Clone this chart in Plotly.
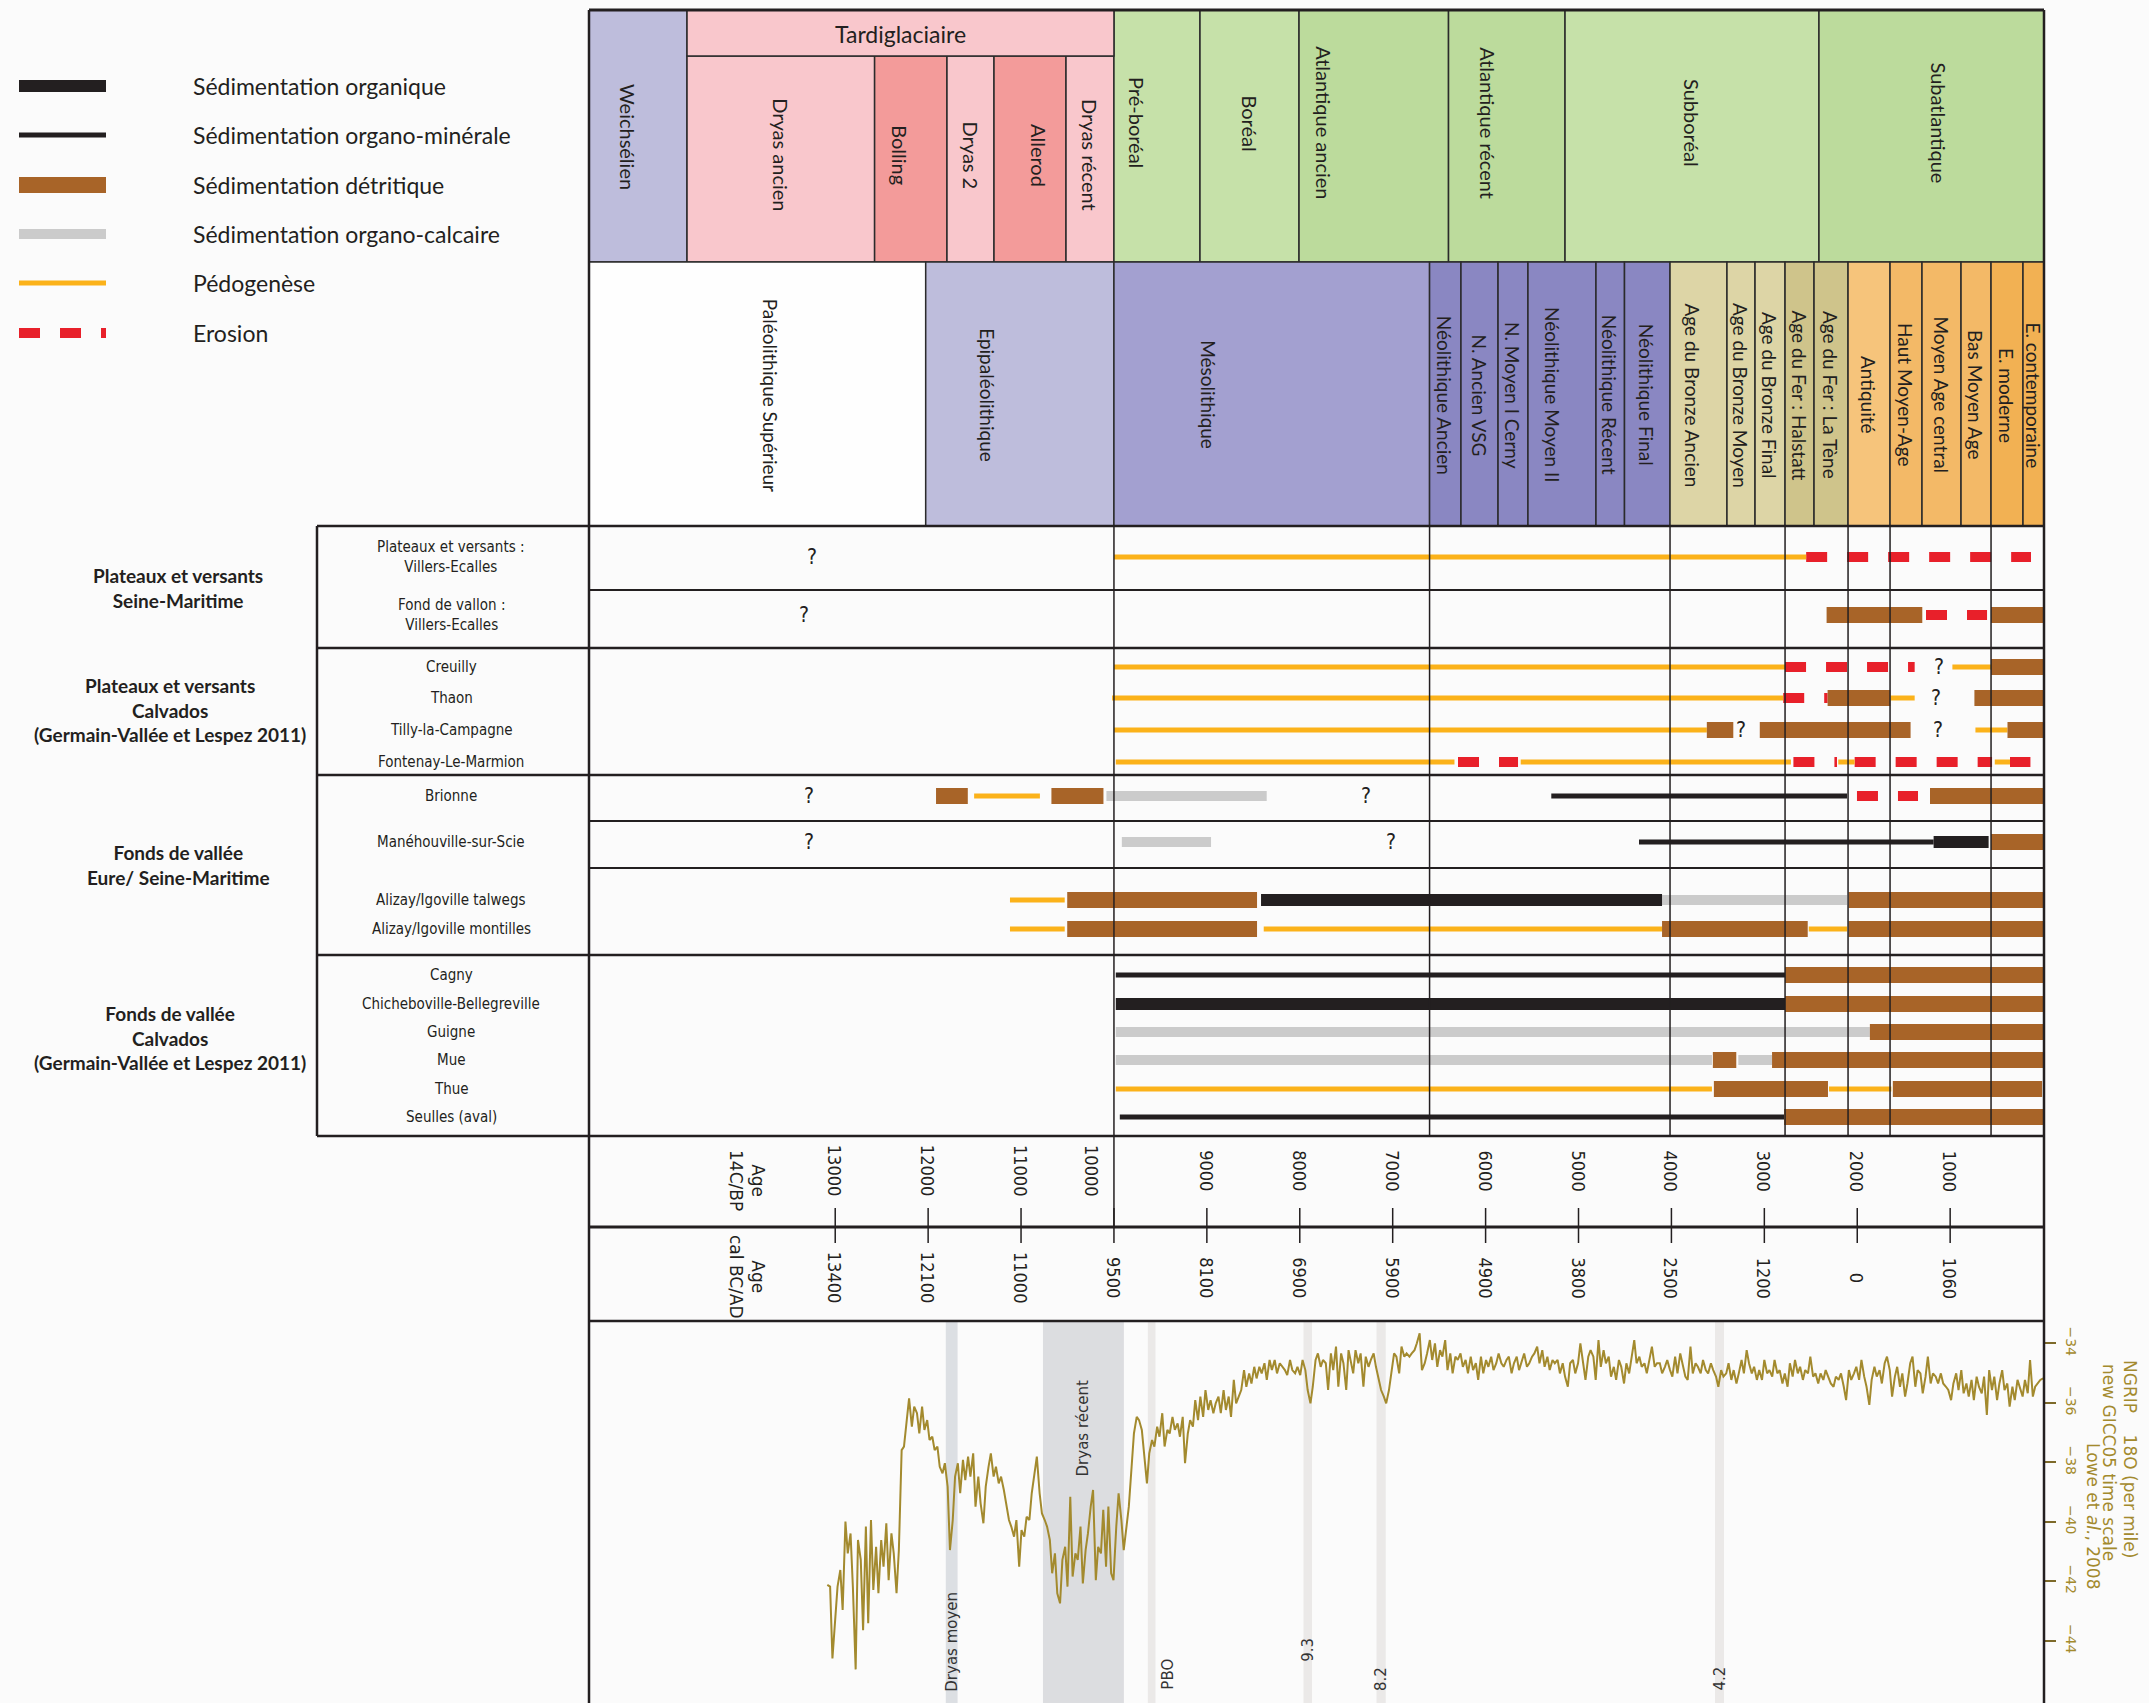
import plotly.graph_objects as go

W, H = 2149, 1703

# ---- chronology (ages in 14C years BP) ----
chrono_names = ["Weichsélien", "Dryas ancien", "Bolling", "Dryas 2", "Allerod", "Dryas récent",
                "Pré-boréal", "Boréal", "Atlantique ancien", "Atlantique récent", "Subboréal", "Subatlantique"]
chrono_start = [15650, 14595, 12576, 11797, 11291, 10516, 10000, 9074, 8008, 6399, 5145, 2412]
chrono_end = [14595, 12576, 11797, 11291, 10516, 10000, 9074, 8008, 6399, 5145, 2412, -10]
tardiglaciaire = ("Tardiglaciaire", 14595, 10000)

culture_names = ["Paléolithique Supérieur", "Epipaléolithique", "Mésolithique", "Néolithique Ancien",
                 "N. Ancien VSG", "N. Moyen I Cerny", "Néolithique Moyen II", "Néolithique Récent",
                 "Néolithique Final", "Age du Bronze Ancien", "Age du Bronze Moyen", "Age du Bronze Final",
                 "Age du Fer : Halstatt", "Age du Fer : La Tène", "Antiquité", "Haut Moyen-Age",
                 "Moyen Age central", "Bas Moyen Age", "E. moderne", "E. contemporaine"]
culture_start = [15650, 12026, 10000, 6603, 6265, 5866, 5544, 4812, 4505, 4015, 3402, 3100,
                 2777, 2465, 2099, 1647, 1303, 883, 560, 216]
culture_end = [12026, 10000, 6603, 6265, 5866, 5544, 4812, 4505, 4015, 3402, 3100, 2777,
               2465, 2099, 1647, 1303, 883, 560, 216, -10]
table_dividers = [10000, 6603, 4015, 2777, 2099, 1647, 560]

# ---- sites and sequences ----
groups = ["Plateaux et versants<br>Seine-Maritime",
          "Plateaux et versants<br>Calvados<br>(Germain-Vallée et Lespez 2011)",
          "Fonds de vallée<br>Eure/ Seine-Maritime",
          "Fonds de vallée<br>Calvados<br>(Germain-Vallée et Lespez 2011)"]
sites = ["Plateaux et versants :<br>Villers-Ecalles", "Fond de vallon :<br>Villers-Ecalles",
         "Creuilly", "Thaon", "Tilly-la-Campagne", "Fontenay-Le-Marmion", "Brionne",
         "Manéhouville-sur-Scie", "Alizay/Igoville talwegs", "Alizay/Igoville montilles",
         "Cagny", "Chicheboville-Bellegreville", "Guigne", "Mue", "Thue", "Seulles (aval)"]

# (site index, start age, end age)
organique = [(7, 1178, 586), (8, 8417, 4101), (11, 9980, 2777)]
organo_min = [(6, 5293, 2110), (7, 4349, 1178), (10, 9980, 2777), (15, 9937, 2787)]
detritique = [(1, 2330, 1300), (1, 560, -10), (2, 560, -10), (3, 2319, 1644), (3, 739, -10),
              (4, 3619, 3334), (4, 3049, 1426), (4, 383, -10), (6, 11915, 11573), (6, 10673, 10113),
              (6, 1217, -10), (7, 560, -10), (8, 10503, 8460), (8, 2094, -10), (9, 10503, 8460),
              (9, 4101, 2533), (9, 2094, -10), (10, 2777, -10), (11, 2777, -10), (12, 1864, -10),
              (13, 3554, 3302), (13, 2917, -10), (14, 3543, 2315), (14, 1617, 10), (15, 2787, -10)]
calcaire = [(6, 10081, 8356), (7, 9915, 8955), (8, 4101, 2110), (12, 9980, 1864),
            (13, 9980, 3564), (13, 3280, 2917)]
pedogenese = [(0, 10000, 2550), (2, 10000, 2777), (2, 976, 560), (3, 10020, 2797), (3, 1644, 1382),
              (4, 10000, 3619), (4, 728, 383), (5, 9980, 6335), (5, 5622, 2714), (5, 2204, 2028),
              (5, 520, 356), (6, 11505, 10797), (8, 11119, 10530), (9, 11119, 10530), (9, 8388, 4101),
              (9, 2522, 2110), (14, 9980, 3564), (14, 2304, 1633)]
erosion = [(0, 2550, 130), (1, 1260, 603), (2, 2777, 1382), (3, 2797, 2319), (5, 6297, 5651),
           (5, 2687, 2218), (5, 2028, 549), (5, 356, 136), (6, 2003, 1346)]
questions = [(0, 13250), (1, 13331), (2, 1123), (3, 1150), (4, 3247), (4, 1134),
             (6, 13286), (6, 7290), (7, 13286), (7, 7020)]

legend_kinds = ["organique", "organo_min", "detritique", "calcaire", "pedogenese", "erosion"]
legend_labels = ["Sédimentation organique", "Sédimentation organo-minérale", "Sédimentation détritique",
                 "Sédimentation organo-calcaire", "Pédogenèse", "Erosion"]

# ---- age scales ----
c14_ticks = [13000, 12000, 11000, 10000, 9000, 8000, 7000, 6000, 5000, 4000, 3000, 2000, 1000]
cal_labels = ["13400", "12100", "11000", "9500", "8100", "6900", "5900", "4900", "3800", "2500",
              "1200", "0", "1060"]

# ---- NGRIP d18O ----
band_names = ["Dryas moyen", "Dryas récent", "PBO", "9.3", "8.2", "4.2"]
band_start = [11810, 10764, 9635, 7960, 7174, 3531]
band_end = [11683, 9893, 9553, 7868, 7075, 3434]

ngrip_age = [
    13085, 13055, 13030, 13000, 12975, 12945, 12920, 12890, 12865, 12835,
    12810, 12780, 12755, 12725, 12700, 12670, 12645, 12615, 12590, 12560,
    12535, 12505, 12480, 12450, 12425, 12395, 12370, 12340, 12315, 12285,
    12260, 12230, 12205, 12175, 12150, 12120, 12095, 12065, 12040, 12010,
    11985, 11955, 11930, 11900, 11875, 11845, 11820, 11790, 11765, 11735,
    11710, 11680, 11655, 11625, 11600, 11570, 11545, 11515, 11490, 11460,
    11435, 11405, 11380, 11350, 11325, 11295, 11270, 11240, 11215, 11185,
    11160, 11130, 11105, 11075, 11050, 11020, 10995, 10965, 10940, 10910,
    10885, 10855, 10830, 10800, 10775, 10745, 10720, 10690, 10665, 10635,
    10610, 10580, 10555, 10525, 10500, 10470, 10445, 10415, 10390, 10360,
    10335, 10305, 10280, 10250, 10225, 10195, 10170, 10140, 10115, 10085,
    10060, 10030, 10005, 9975, 9950, 9920, 9895, 9865, 9840, 9810,
    9785, 9755, 9730, 9700, 9675, 9645, 9620, 9590, 9565, 9535,
    9510, 9480, 9455, 9425, 9400, 9370, 9345, 9315, 9290, 9260,
    9235, 9205, 9180, 9150, 9125, 9095, 9070, 9040, 9015, 8985,
    8960, 8930, 8905, 8875, 8850, 8820, 8795, 8765, 8740, 8710,
    8685, 8655, 8630, 8600, 8575, 8545, 8520, 8490, 8465, 8435,
    8410, 8380, 8355, 8325, 8300, 8270, 8245, 8215, 8190, 8160,
    8135, 8105, 8080, 8050, 8025, 7995, 7970, 7940, 7915, 7885,
    7860, 7830, 7805, 7775, 7750, 7720, 7695, 7665, 7640, 7610,
    7585, 7555, 7530, 7500, 7475,
    7455, 7425, 7400, 7370, 7345, 7315, 7290, 7260, 7235, 7205,
    7180, 7150, 7125, 7095, 7070, 7040, 7015, 6985, 6960, 6930,
    6905, 6875, 6850, 6820, 6795, 6765, 6740, 6710, 6685, 6655,
    6630, 6600, 6575, 6545, 6520, 6490, 6465, 6435, 6410, 6380,
    6355, 6325, 6300, 6270, 6245, 6215, 6190, 6160, 6135, 6105,
    6080, 6050, 6025, 5995, 5970, 5940, 5915, 5885, 5860, 5830,
    5805, 5775, 5750, 5720, 5695, 5665, 5640, 5610, 5585, 5555,
    5530, 5500, 5475, 5445, 5420, 5390, 5365, 5335, 5310, 5280,
    5255, 5225, 5200, 5170, 5145, 5115, 5090, 5060, 5035, 5005,
    4980, 4950, 4925, 4895, 4870, 4840, 4815, 4785, 4760, 4730,
    4705, 4675, 4650, 4620, 4595, 4565, 4540, 4510, 4485, 4455,
    4430, 4400, 4375, 4345, 4320, 4290, 4265, 4235, 4210, 4180,
    4155, 4125, 4100, 4070, 4045, 4015, 3990, 3960, 3935, 3905,
    3880, 3850, 3825, 3795, 3770, 3740, 3715, 3685, 3660, 3630,
    3605, 3575, 3550, 3520, 3495, 3465, 3440, 3410, 3385, 3355,
    3330, 3300, 3275, 3245, 3220, 3190, 3165, 3135, 3110, 3080,
    3055, 3025, 3000, 2970, 2945, 2915, 2890, 2860, 2835, 2805,
    2780, 2750, 2725, 2695, 2670, 2640, 2615, 2585, 2560, 2530,
    2505, 2475, 2450, 2420, 2395, 2365, 2340, 2310, 2285, 2255,
    2230, 2200, 2175, 2145, 2120, 2090, 2065, 2035, 2010, 1980,
    1955, 1925, 1900, 1870, 1845, 1815, 1790, 1760, 1735, 1705,
    1680, 1650, 1625, 1595, 1570, 1540, 1515, 1485, 1460, 1430,
    1405, 1375, 1350, 1320, 1295, 1265, 1240, 1210, 1185, 1155,
    1130, 1100, 1075, 1045, 1020, 990, 965, 935, 910, 880,
    855, 825, 800, 770, 745, 715, 690, 660, 635, 605,
    580, 550, 525, 495, 470, 440, 415, 385, 360, 330,
    305, 275, 250, 220, 195, 165, 140, 110, 85, 55,
    30, 0]
ngrip_d18o = [
    -42.12, -42.18, -44.59, -43.08, -42.18, -41.62, -42.96, -39.99, -41.06, -40.39,
    -42.18, -44.96, -40.61, -41.28, -43.64, -40.16, -43.41, -39.94, -42.29, -40.84,
    -42.40, -40.61, -41.51, -40.05, -41.96, -40.39, -41.06, -42.40, -40.95, -37.59,
    -37.47, -36.58, -35.85, -36.80, -36.13, -36.35, -37.03, -36.13, -36.91, -36.58,
    -37.25, -37.14, -37.59, -37.47, -38.15, -38.37, -38.03, -38.82, -40.95, -39.94,
    -38.48, -38.03, -39.04, -37.92, -38.60, -37.81, -38.48, -37.70, -39.49, -38.48,
    -39.38, -40.05, -38.82, -38.15, -37.70, -38.48, -38.15, -38.71, -38.48, -38.93,
    -39.38, -39.94, -40.16, -40.50, -39.94, -41.51, -40.28, -40.50, -39.83, -39.94,
    -39.04, -38.26, -37.81, -39.04, -39.72, -39.94, -40.16, -40.61, -41.73, -41.06,
    -42.40, -42.74, -41.28, -40.84, -42.18, -39.16, -41.84, -41.06, -41.28, -40.16,
    -42.07, -40.95, -40.39, -39.49, -38.93, -41.96, -40.84, -41.06, -39.60, -41.51,
    -39.49, -41.73, -41.96, -40.16, -39.04, -39.94, -40.95, -40.16, -39.49, -38.15,
    -37.03, -36.47, -36.58, -36.91, -37.70, -38.71, -37.70, -37.25, -37.47, -36.80,
    -37.14, -36.35, -37.47, -36.91, -37.03, -36.47, -36.91, -36.69, -37.14, -36.47,
    -38.03, -37.03, -36.58, -36.80, -35.91, -36.58, -35.79, -36.47, -35.57, -36.24,
    -35.91, -36.35, -36.02, -35.79, -36.35, -35.57, -36.24, -35.79, -36.47, -35.23,
    -36.02, -35.79, -35.57, -34.90, -35.46, -35.01, -35.35, -34.79, -35.18, -34.79,
    -35.01, -34.67, -35.23, -34.56, -34.90, -34.56, -35.01, -34.67, -34.79, -34.90,
    -35.07, -34.56, -34.90, -35.01, -34.79, -35.07, -34.56, -34.90, -35.57, -36.02,
    -35.46, -34.56, -34.34, -34.79, -34.56, -34.67, -35.57, -34.34, -34.90, -34.11,
    -35.46, -34.34, -34.67, -35.57, -34.23,
    -34.56, -35.01, -34.23, -34.67, -34.34, -35.46, -34.45, -34.79, -34.56, -34.34,
    -34.79, -35.23, -35.57, -35.79, -36.02, -35.57, -35.01, -34.34, -34.45, -35.01,
    -34.11, -34.45, -34.34, -34.45, -34.34, -34.23, -34.00, -33.66, -34.90, -34.67,
    -34.34, -33.89, -34.56, -34.00, -34.79, -34.23, -34.45, -33.89, -34.90, -34.34,
    -35.01, -34.45, -34.56, -34.34, -34.79, -34.56, -35.01, -34.45, -34.90, -34.67,
    -35.23, -34.45, -35.01, -34.56, -34.79, -34.45, -34.90, -34.67, -34.34, -34.67,
    -34.79, -34.56, -34.45, -35.01, -34.67, -34.45, -34.90, -34.56, -34.34, -34.79,
    -34.67, -34.45, -34.34, -34.11, -34.67, -34.23, -34.79, -34.45, -34.90, -34.56,
    -34.67, -34.56, -35.01, -34.67, -35.12, -35.46, -34.67, -34.56, -35.01, -34.67,
    -34.00, -34.67, -35.23, -34.45, -34.23, -34.45, -35.23, -33.89, -34.79, -34.23,
    -34.67, -34.45, -35.12, -34.79, -35.23, -34.56, -34.79, -35.35, -34.67, -35.01,
    -34.56, -33.89, -34.67, -34.45, -34.79, -34.67, -35.01, -34.45, -34.11, -34.79,
    -34.67, -34.67, -35.01, -34.79, -34.56, -34.90, -35.12, -34.45, -35.01, -34.34,
    -34.67, -35.12, -35.23, -34.11, -35.01, -34.67, -34.79, -35.01, -34.56, -34.90,
    -35.01, -34.67, -34.90, -35.12, -35.46, -34.90, -35.12, -35.01, -34.67, -35.23,
    -34.90, -35.35, -35.01, -34.56, -35.01, -34.23, -34.67, -35.01, -34.79, -35.23,
    -34.90, -35.23, -34.56, -35.01, -34.90, -35.12, -34.56, -35.01, -34.90, -35.35,
    -35.01, -35.46, -34.67, -35.12, -34.56, -35.01, -34.79, -35.23, -34.90, -35.01,
    -34.45, -35.12, -35.01, -35.35, -35.01, -35.23, -34.90, -35.12, -35.35, -35.46,
    -35.12, -35.23, -35.01, -35.46, -35.91, -34.90, -35.23, -35.01, -34.79, -35.23,
    -34.56, -35.12, -35.46, -36.07, -35.23, -34.79, -35.12, -34.90, -35.35, -34.67,
    -34.45, -34.90, -35.79, -35.12, -34.79, -35.46, -35.01, -35.79, -35.35, -34.67,
    -34.45, -35.46, -34.90, -35.01, -35.68, -35.12, -34.45, -35.35, -35.01, -35.12,
    -35.35, -35.01, -35.35, -35.46, -35.57, -35.91, -35.35, -35.01, -35.57, -34.90,
    -35.68, -35.35, -35.79, -35.23, -35.91, -35.12, -35.46, -35.68, -35.12, -36.41,
    -34.90, -35.57, -35.12, -35.91, -35.35, -34.90, -35.57, -35.35, -36.13, -35.46,
    -35.91, -35.23, -35.46, -35.79, -35.23, -35.68, -34.56, -35.79, -35.46, -35.35,
    -35.23, -35.18]

# ---- styles / layout (pixels from the top-left corner) ----
INK = "#231f20"
OLIVE = "#a38a2e"
SANS = "Lato, 'Open Sans', sans-serif"
NARROW = "'Liberation Sans Narrow', 'DejaVu Sans Condensed', 'Roboto Condensed', sans-serif"
DEJA = "'DejaVu Sans', sans-serif"
DEJA_C = "'DejaVu Sans Condensed', 'Liberation Sans Narrow', sans-serif"

STYLE = {
    "organique": dict(color=INK, width=12),
    "organo_min": dict(color=INK, width=5),
    "detritique": dict(color="#a86428", width=16),
    "calcaire": dict(color="#cbcbcb", width=10),
    "pedogenese": dict(color="#fbb21a", width=5),
    "erosion": dict(color="#e8202a", width=10, dash="21px,20px"),
}
bars = {"organique": organique, "organo_min": organo_min, "detritique": detritique,
        "calcaire": calcaire, "pedogenese": pedogenese, "erosion": erosion}

CELL_COLOR = {
    "Weichsélien": "#bebddc", "Tardiglaciaire": "#f9c7cc", "Dryas ancien": "#f9c7cc",
    "Bolling": "#f39b9a", "Dryas 2": "#f9c7cc", "Allerod": "#f39b9a", "Dryas récent": "#f9c7cc",
    "Pré-boréal": "#c6e1a9", "Boréal": "#c6e1a9", "Atlantique ancien": "#bcdb9c",
    "Atlantique récent": "#bcdb9c", "Subboréal": "#c6e1a9", "Subatlantique": "#bcdb9c",
    "Paléolithique Supérieur": "#fefefe", "Epipaléolithique": "#bebddc", "Mésolithique": "#a3a0d0",
    "Age du Bronze Ancien": "#ddd5a6", "Age du Bronze Moyen": "#ddd5a6", "Age du Bronze Final": "#ddd5a6",
    "Age du Fer : Halstatt": "#cfc48b", "Age du Fer : La Tène": "#cfc48b", "Antiquité": "#f6c47b",
    "Haut Moyen-Age": "#f3b967", "Moyen Age central": "#f3b967", "Bas Moyen Age": "#f3b967",
    "E. moderne": "#f2b153", "E. contemporaine": "#f2b153",
}
NEO_COLOR = "#8a87c2"
LABEL_SHIFT = {"Weichsélien": -10, "Bolling": -11, "Allerod": 9, "Pré-boréal": -20,
               "Atlantique ancien": -50, "Atlantique récent": -19, "Subatlantique": 8,
               "Paléolithique Supérieur": 14, "Epipaléolithique": -32, "Mésolithique": -63,
               "Néolithique Moyen II": -9, "Age du Bronze Ancien": -6}

TOP, HEAD_B, ROW1_B, ROW2_B = 10, 56, 262, 526
X_LEFT, X_RIGHT, X_BOX = 589, 2044, 317
ROW_Y = [557, 615, 667, 698, 730, 762, 796, 842, 900, 929, 975, 1004, 1032, 1060, 1089, 1117]
GROUP_LINES = [526, 648, 775, 955, 1136]
INNER_LINES = [590, 821, 868]
GROUP_POS = [(178, 588), (170, 710), (178, 865), (170, 1038)]
AGE_MID, AGE_BOT = 1227, 1321
LEGEND_Y = [86, 135, 185, 234, 283, 333]
BAND_LABEL_Y = {"Dryas moyen": 1642, "Dryas récent": 1428, "PBO": 1674, "9.3": 1650, "8.2": 1679, "4.2": 1679}
BAND_COLOR = {"Dryas moyen": "#dcdfe3", "Dryas récent": "#dcdde0"}


def px(v):
    return v / W


shapes, annots = [], []


def cell(x0, x1, y0, y1, fill):
    shapes.append(dict(type="rect", xref="x", yref="y", x0=x0, x1=x1, y0=y0, y1=y1,
                       fillcolor=fill, line=dict(color="#2b2b2b", width=1.5), layer="below"))


def seg(x0, x1, y0, y1, w, xref="paper", color=INK):
    shapes.append(dict(type="line", xref=xref, yref="y", x0=x0, x1=x1, y0=y0, y1=y1,
                       line=dict(color=color, width=w), layer="above"))


def text(t, x, y, size, xref="x", angle=0, family=SANS, color=INK, xanchor="center", **kw):
    annots.append(dict(text=t, x=x, y=y, xref=xref, yref="y", showarrow=False, textangle=angle,
                       xanchor=xanchor, yanchor="middle",
                       font=dict(family=family, size=size, color=color), **kw))


# header cells
for name, a0, a1 in zip(chrono_names, chrono_start, chrono_end):
    if name == "Weichsélien" or a0 <= 10000:
        y0, ly = TOP, (137 if name == "Weichsélien" else 123)
    else:
        y0, ly = HEAD_B, 155
    cell(a0, a1, y0, ROW1_B, CELL_COLOR[name])
    text(name, (a0 + a1) / 2, ly, 20, angle=90, xshift=LABEL_SHIFT.get(name, 0))
cell(tardiglaciaire[1], tardiglaciaire[2], TOP, HEAD_B, CELL_COLOR["Tardiglaciaire"])
text(tardiglaciaire[0], (tardiglaciaire[1] + tardiglaciaire[2]) / 2, 34, 23)

for name, a0, a1 in zip(culture_names, culture_start, culture_end):
    cell(a0, a1, ROW1_B, ROW2_B, CELL_COLOR.get(name, NEO_COLOR))
    text(name, (a0 + a1) / 2, 395, 19, angle=90, xshift=LABEL_SHIFT.get(name, 0))

# NGRIP event bands
for name, a0, a1 in zip(band_names, band_start, band_end):
    shapes.append(dict(type="rect", xref="x", yref="y", x0=a0, x1=a1, y0=AGE_BOT + 1, y1=H,
                       fillcolor=BAND_COLOR.get(name, "#ebe9e8"), line=dict(width=0), layer="below"))
    text(name, (a0 + a1) / 2, BAND_LABEL_Y[name], 15, angle=-90, family=DEJA, color="#333333",
         xshift=16 if name == "PBO" else 0)

# frame
seg(px(X_LEFT), px(X_RIGHT), TOP, TOP, 3)
seg(px(X_LEFT), px(X_LEFT), TOP, H, 2.5)
seg(px(X_RIGHT), px(X_RIGHT), TOP, H, 2.5)
for y in GROUP_LINES:
    seg(px(X_BOX), px(X_RIGHT), y, y, 2.5)
for y in INNER_LINES:
    seg(px(X_LEFT), px(X_RIGHT), y, y, 1.8)
seg(px(X_BOX), px(X_BOX), GROUP_LINES[0], GROUP_LINES[-1], 2.5)
seg(px(X_LEFT), px(X_RIGHT), AGE_MID, AGE_MID, 3)
seg(px(X_LEFT), px(X_RIGHT), AGE_BOT, AGE_BOT, 2.5)
for a in table_dividers:
    seg(a, a, GROUP_LINES[0], AGE_MID if a == 10000 else GROUP_LINES[-1], 1.5, xref="x")

# age scales
for a, cal in zip(c14_ticks, cal_labels):
    seg(a, a, 1208, 1243, 1.5, xref="x")
    text(str(a), a, 1171, 18, angle=90, family=DEJA_C, xshift=-22 if a == 10000 else 0)
    text(cal, a, 1278, 18, angle=90, family=DEJA_C)
text("Age<br>14C/BP", px(747), 1180, 17, xref="paper", angle=90, family=DEJA)
text("Age<br>cal BC/AD", px(747), 1277, 17, xref="paper", angle=90, family=DEJA)

# left side labels
for (gx, gy), g in zip(GROUP_POS, groups):
    text("<b>%s</b>" % g, px(gx), gy, 19, xref="paper")
for y, s in zip(ROW_Y, sites):
    text(s, px(451), y, 15, xref="paper", family=NARROW)
for site, a in questions:
    text("?", a, ROW_Y[site], 21, family=NARROW)

# legend
for y, kind, lab in zip(LEGEND_Y, legend_kinds, legend_labels):
    st = STYLE[kind]
    shapes.append(dict(type="line", xref="paper", yref="y", x0=px(19), x1=px(106), y0=y, y1=y,
                       line=dict(color=st["color"], width=st["width"], dash=st.get("dash", "solid"))))
    text(lab, px(191), y, 23, xref="paper", xanchor="left")

# NGRIP axis title
text("NGRIP\u00a0\u00a0\u00a0\u00a018O (per mile)", px(2130), 1459, 17, xref="paper", angle=90,
     family=DEJA, color=OLIVE)
text("new GICC05 time scale", px(2109), 1462, 17, xref="paper", angle=90, family=DEJA, color=OLIVE)
text("Lowe et <i>al.</i>, 2008", px(2093), 1516, 17, xref="paper", angle=90, family=DEJA, color=OLIVE)

fig = go.Figure()

for kind in ["erosion", "pedogenese", "calcaire", "organo_min", "organique", "detritique"]:
    xs, ys = [], []
    for site, a0, a1 in bars[kind]:
        xs += [a0, a1, None]
        ys += [ROW_Y[site], ROW_Y[site], None]
    fig.add_trace(go.Scatter(x=xs, y=ys, mode="lines", line=STYLE[kind], hoverinfo="skip"))

fig.add_trace(go.Scatter(x=ngrip_age, y=ngrip_d18o, xaxis="x", yaxis="y2", mode="lines",
                         line=dict(color=OLIVE, width=2), hoverinfo="skip"))

fig.update_layout(
    width=W, height=H, margin=dict(l=0, r=0, t=0, b=0),
    paper_bgcolor="#fbfbfb", plot_bgcolor="rgba(0,0,0,0)",
    showlegend=False, hovermode=False,
    font=dict(family=SANS, color=INK),
    xaxis=dict(domain=[px(X_LEFT), px(X_RIGHT)], range=[15650, -10], visible=False),
    yaxis=dict(domain=[0, 1], range=[H, 0], visible=False),
    yaxis2=dict(domain=[0, (H - AGE_BOT) / H], range=[-46.09, -33.25], anchor="x", side="right",
                tickvals=[-34, -36, -38, -40, -42, -44], ticks="outside", ticklen=11, tickwidth=1.5,
                tickcolor="#7d6a2a", tickangle=90, tickfont=dict(family=DEJA, size=14, color=OLIVE),
                showgrid=False, zeroline=False, showline=False, ticklabelstandoff=4),
    shapes=shapes, annotations=annots,
)

# the page body has a default 8px margin; drop it so the figure sits at the window origin
fig.write_html("out.html", config={"displayModeBar": False},
               post_script="document.body.style.margin='0';")
